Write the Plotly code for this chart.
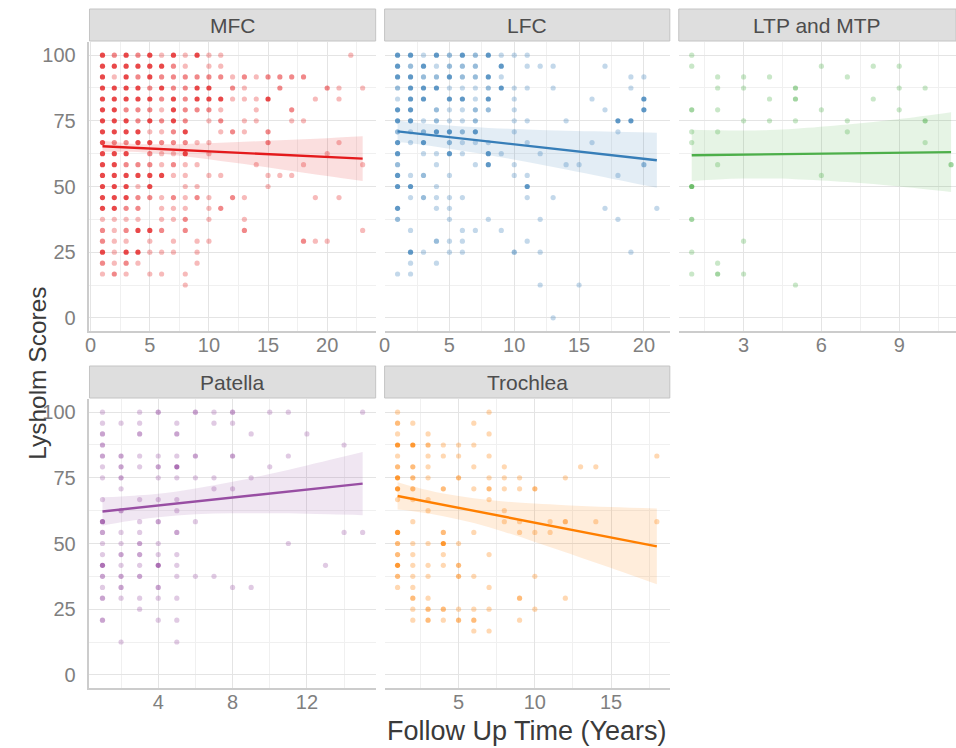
import plotly.graph_objects as go

# ---------------- data ----------------
# each panel: {score: [(follow-up year, number of overlapping observations), ...]}
mfc_rows = {
    100:  [(1,3),(2,2),(3,3),(4,2),(5,3),(6,1),(7,3),(8,1),(9,3),(10,1),(11,1),(22,1)],
    95.8: [(1,3),(2,3),(3,3),(4,3),(5,3),(6,3),(7,2),(8,1),(10,1),(11,1)],
    91.7: [(1,3),(2,1),(3,3),(4,2),(5,3),(6,2),(7,2),(8,2),(9,2),(10,2),(11,2),(12,1),(13,2),(14,1),(15,2),(16,2),(17,2),(18,2)],
    87.5: [(1,3),(2,3),(3,3),(4,3),(5,2),(6,3),(7,2),(8,2),(9,3),(10,3),(12,2),(13,1),(16,2),(20,2),(21,1),(23,1)],
    83.3: [(1,3),(2,3),(3,3),(4,3),(5,3),(6,2),(7,3),(8,2),(9,3),(10,3),(11,3),(12,1),(13,1),(14,1),(15,3),(19,1),(21,1)],
    79.2: [(1,3),(2,3),(3,2),(4,2),(5,2),(6,1),(7,3),(8,2),(9,2),(10,2),(11,1),(14,1),(17,2)],
    75:   [(1,3),(2,3),(3,3),(4,2),(5,3),(6,2),(7,3),(8,2),(10,1),(11,2),(13,1),(14,1),(17,1),(18,1)],
    70.8: [(1,3),(2,3),(3,3),(4,3),(5,1),(6,1),(7,2),(8,3),(11,1),(12,2),(13,1),(15,2)],
    66.7: [(1,3),(2,2),(3,2),(4,3),(5,3),(6,2),(7,2),(8,2),(9,1),(10,1),(15,2),(21,1)],
    62.5: [(1,3),(2,3),(3,3),(5,2),(6,1),(7,1),(8,3),(10,1),(20,1)],
    58.3: [(1,3),(2,3),(3,2),(4,2),(5,2),(6,1),(7,2),(8,1),(9,1),(14,1),(18,1),(23,1)],
    54.2: [(1,3),(2,3),(3,3),(4,3),(5,3),(6,3),(7,1),(8,1),(10,1),(11,1),(15,1),(16,1),(17,1)],
    50:   [(1,3),(2,3),(3,3),(4,1),(5,3),(8,1),(9,1),(15,1)],
    45.8: [(1,3),(2,3),(3,3),(4,2),(5,2),(6,1),(7,2),(8,1),(9,2),(10,1),(12,2),(13,1),(19,1),(21,1)],
    41.7: [(1,3),(2,3),(3,2),(4,2),(6,1),(7,1),(8,1),(10,1),(11,2)],
    37.5: [(1,1),(2,1),(3,1),(4,1),(6,1),(7,1),(8,2),(10,1),(13,1)],
    33.3: [(1,2),(2,1),(3,2),(4,3),(5,3),(6,2),(8,2),(13,2),(23,1)],
    29.2: [(1,2),(2,1),(3,1),(5,1),(7,1),(9,1),(10,1),(18,2),(19,1),(20,1)],
    25:   [(1,3),(2,1),(3,3),(4,3),(5,1),(6,1),(7,1),(9,1)],
    20.8: [(1,2),(2,1),(3,2),(4,1),(9,1)],
    16.7: [(1,1),(2,2),(3,1),(5,1),(6,1),(8,1)],
    12.5: [(8,1)],
}
lfc_rows = {
    100:  [(1,3),(2,3),(3,1),(4,3),(5,2),(6,3),(7,2),(8,3),(9,1),(10,1),(11,1)],
    95.8: [(1,3),(2,2),(3,3),(4,1),(5,2),(6,2),(7,2),(9,3),(11,1),(12,1),(13,1),(17,1)],
    91.7: [(1,3),(2,3),(3,2),(4,2),(5,3),(6,2),(7,2),(8,3),(9,1),(19,1),(20,1)],
    87.5: [(1,2),(2,3),(3,3),(4,3),(5,1),(6,1),(7,1),(8,2),(9,3),(10,1),(11,1),(13,1),(19,1)],
    83.3: [(1,1),(2,3),(3,3),(5,3),(6,3),(7,1),(8,3),(10,1),(16,1),(20,3)],
    79.2: [(1,3),(2,3),(4,2),(5,1),(6,1),(7,2),(8,2),(10,1),(17,1),(20,3)],
    75:   [(1,3),(2,3),(3,1),(4,2),(5,1),(6,1),(7,2),(10,1),(11,1),(14,1),(18,3),(19,3)],
    70.8: [(1,2),(2,1),(3,2),(4,3),(5,3),(6,2),(7,3),(10,1),(18,1)],
    66.7: [(1,3),(2,1),(3,3),(5,2),(6,1),(7,1),(8,1),(11,1),(16,1)],
    62.5: [(1,3),(3,1),(4,1),(5,3),(6,1),(8,3),(9,1),(12,1)],
    58.3: [(1,2),(4,1),(7,1),(8,3),(10,1),(14,1),(15,1),(20,2)],
    54.2: [(1,3),(2,1),(3,2),(5,1),(10,1),(11,1),(18,1)],
    50:   [(1,3),(2,3),(4,1),(11,3)],
    45.8: [(2,1),(3,2),(4,1),(5,1),(6,1),(11,1),(13,1)],
    41.7: [(1,3),(4,1),(5,1),(17,1),(21,1)],
    37.5: [(1,2),(5,1),(8,1),(12,1),(18,1)],
    33.3: [(2,1),(6,1),(7,1),(9,1)],
    29.2: [(4,2),(5,1),(6,1),(11,1)],
    25:   [(2,3),(3,1),(5,1),(6,1),(10,2),(12,1),(19,1)],
    20.8: [(2,1),(4,1)],
    16.7: [(1,1),(2,1)],
    12.5: [(12,1),(15,1)],
    0:    [(13,1)],
}
tp_rows = {
    100:  [(1,1)],
    95.8: [(1,1),(6,1),(8,1),(9,1)],
    91.7: [(2,1),(3,1),(4,1),(7,1)],
    87.5: [(2,1),(3,1),(5,2),(9,1),(10,1)],
    83.3: [(4,1),(5,2),(8,1)],
    79.2: [(1,2),(2,1),(6,1),(9,1)],
    75:   [(3,1),(4,1),(5,1),(7,1),(10,2)],
    70.8: [(1,1),(2,1),(7,1)],
    66.7: [(1,1),(10,1)],
    58.3: [(2,1),(11,2)],
    54.2: [(6,1)],
    50:   [(1,3)],
    37.5: [(1,2)],
    29.2: [(3,1)],
    25:   [(1,1)],
    20.8: [(2,1)],
    16.7: [(1,1),(2,2),(3,1)],
    12.5: [(5,1)],
}
patella_rows = {
    100:  [(1,1),(3,1),(4,2),(6,2),(7,1),(8,2),(10,1),(11,1),(15,1)],
    95.8: [(1,1),(2,1),(3,1),(5,1),(7,1),(8,1)],
    91.7: [(1,2),(3,2),(5,2),(9,1),(12,1)],
    87.5: [(1,2),(14,1)],
    83.3: [(1,2),(2,2),(3,1),(4,1),(5,1),(6,2),(8,2),(11,1)],
    79.2: [(1,1),(2,2),(3,1),(4,2),(5,3),(10,1)],
    75:   [(1,1),(2,2),(4,1),(5,1),(6,1),(7,1),(9,1)],
    70.8: [(2,1),(7,1),(8,1)],
    66.7: [(1,1),(3,1),(4,1),(5,1)],
    62.5: [(2,2),(5,1)],
    58.3: [(1,3),(3,1),(4,2),(6,1)],
    54.2: [(1,2),(2,1),(3,1),(5,2),(14,1),(15,1)],
    50:   [(1,1),(2,1),(3,2),(4,1),(11,1)],
    45.8: [(1,1),(2,2),(3,2),(4,1),(5,1)],
    41.7: [(1,3),(2,1),(3,1),(4,3),(5,1),(13,1)],
    37.5: [(1,2),(2,2),(3,2),(5,1),(6,1),(7,1)],
    33.3: [(1,1),(2,2),(4,2),(8,1),(9,1)],
    29.2: [(1,2),(2,1),(3,1),(4,1),(5,1)],
    25:   [(3,1)],
    20.8: [(1,2),(4,1),(5,1)],
    12.5: [(2,1),(5,1)],
}
trochlea_rows = {
    100:  [(1,1),(7,1)],
    95.8: [(1,2),(2,1),(6,1)],
    91.7: [(1,1),(3,1),(7,1)],
    87.5: [(1,3),(2,3),(3,2),(4,1),(5,1),(6,1)],
    83.3: [(1,1),(3,1),(4,1),(5,1),(7,1),(18,1)],
    79.2: [(1,2),(2,2),(3,1),(6,1),(8,1),(13,1),(14,1)],
    75:   [(1,3),(2,2),(3,1),(5,2),(7,1),(8,1),(9,1),(12,1)],
    70.8: [(1,3),(2,2),(4,2),(6,1),(7,2),(8,1),(9,1),(10,2)],
    66.7: [(1,1),(2,1),(3,1),(7,1)],
    62.5: [(3,1),(8,1)],
    58.3: [(2,1),(8,1),(9,1),(11,1),(12,2),(14,1),(18,1)],
    54.2: [(1,3),(4,2),(6,1),(9,1),(10,1),(11,1)],
    50:   [(1,2),(2,1),(3,1),(4,3),(5,1)],
    45.8: [(1,2),(2,1),(4,1),(7,1)],
    41.7: [(1,3),(2,1),(3,1),(4,1),(5,2)],
    37.5: [(1,2),(2,1),(3,1),(5,2),(6,1),(10,1)],
    33.3: [(1,1),(2,1),(7,1)],
    29.2: [(2,2),(3,1),(9,2),(12,1)],
    25:   [(2,1),(3,2),(4,2),(5,1),(6,1),(7,1),(10,1)],
    20.8: [(2,1),(3,2),(4,1),(5,2),(6,2),(9,1)],
    16.7: [(6,1),(7,1)],
}

# linear fit lines (start/end) and 95% bands
mfc_fit_x = [1, 23];  mfc_fit_y = [65.3, 60.6]
mfc_band_x  = [1, 3, 5, 8, 12, 16, 20, 23]
mfc_band_hi = [67.4, 66.5, 66.1, 66.2, 66.8, 67.6, 68.4, 69.1]
mfc_band_lo = [63.2, 63.2, 62.8, 61.4, 59.1, 56.6, 54.0, 52.1]

lfc_fit_x = [1, 21];  lfc_fit_y = [71.0, 60.0]
lfc_band_x  = [1, 3, 5, 8, 11, 14, 17, 21]
lfc_band_hi = [75.1, 74.0, 73.2, 72.3, 71.7, 71.2, 70.9, 70.5]
lfc_band_lo = [66.9, 65.8, 64.4, 62.0, 59.3, 56.5, 53.5, 49.5]

tp_fit_x = [1, 11];  tp_fit_y = [61.9, 63.1]
tp_band_x  = [1, 2, 3, 4, 5, 7, 9, 11]
tp_band_hi = [71.6, 71.4, 71.3, 71.5, 72.0, 73.6, 75.7, 78.3]
tp_band_lo = [52.1, 52.7, 53.0, 53.0, 52.8, 51.7, 50.0, 47.9]

patella_fit_x = [1, 15];  patella_fit_y = [62.2, 72.8]
patella_band_x  = [1, 2, 4, 6, 8, 10, 12, 15]
patella_band_hi = [67.6, 67.9, 68.9, 70.9, 73.5, 76.5, 79.7, 84.8]
patella_band_lo = [56.8, 58.1, 60.0, 61.1, 61.5, 61.5, 61.3, 60.8]

trochlea_fit_x = [1, 18];  trochlea_fit_y = [68.1, 48.9]
trochlea_band_x  = [1, 2, 4, 6, 8, 10, 12, 15, 18]
trochlea_band_hi = [73.3, 71.7, 69.0, 67.2, 66.0, 65.2, 64.6, 63.9, 63.3]
trochlea_band_lo = [62.9, 62.3, 60.4, 57.8, 54.4, 50.6, 46.7, 40.7, 34.5]

panel_names = ["MFC", "LFC", "LTP and MTP", "Patella", "Trochlea"]
y_ticks = [0, 25, 50, 75, 100]
x_ticks = [[0, 5, 10, 15, 20], [0, 5, 10, 15, 20], [3, 6, 9], [4, 8, 12], [5, 10, 15]]

# ---------------- styling / layout ----------------
W, H = 956, 748
colors = [(228, 26, 28), (55, 126, 184), (77, 175, 74), (152, 78, 163), (255, 127, 0)]
alpha_for_n = {1: 0.30, 2: 0.52, 3: 0.80}

rows = [mfc_rows, lfc_rows, tp_rows, patella_rows, trochlea_rows]
fits = [(mfc_fit_x, mfc_fit_y), (lfc_fit_x, lfc_fit_y), (tp_fit_x, tp_fit_y),
        (patella_fit_x, patella_fit_y), (trochlea_fit_x, trochlea_fit_y)]
bands = [(mfc_band_x, mfc_band_hi, mfc_band_lo), (lfc_band_x, lfc_band_hi, lfc_band_lo),
         (tp_band_x, tp_band_hi, tp_band_lo), (patella_band_x, patella_band_hi, patella_band_lo),
         (trochlea_band_x, trochlea_band_hi, trochlea_band_lo)]

x_ranges = [[-0.1, 24.1], [0, 22], [0.5, 11.19], [0.3, 15.7], [0.15, 18.85]]
x_minor = [2.5, 2.5, 1.5, 2, 2.5]

px_x = [(84, 372), (381, 668), (677, 956), (84, 372), (381, 668)]
px_y = [(42, 331), (42, 331), (42, 331), (399, 688), (399, 688)]
strip_y = [(9, 41), (9, 41), (9, 41), (366, 398), (366, 398)]

def fx(p):
    return p / W

def fy(p):
    return 1 - p / H

FONT = "Liberation Sans, Arial, sans-serif"
fig = go.Figure()
shapes = []
annotations = []
tick_font = dict(family=FONT, size=20, color="#7F7F7F")
grid_major = "#E4E4E4"
grid_minor = "#F0F0F0"

for i in range(5):
    k = i + 1
    xa = "x" if k == 1 else f"x{k}"
    ya = "y" if k == 1 else f"y{k}"
    r, g, b = colors[i]
    xs, ys, ops = [], [], []
    for score, pts in rows[i].items():
        for yr, n in pts:
            xs.append(yr)
            ys.append(score)
            ops.append(alpha_for_n[n])
    fig.add_trace(go.Scatter(
        x=xs, y=ys, mode="markers", xaxis=xa, yaxis=ya, showlegend=False,
        marker=dict(size=5.2, color=f"rgb({r},{g},{b})", opacity=ops, line=dict(width=0)),
        hoverinfo="skip"))
    bx, bhi, blo = bands[i]
    fig.add_trace(go.Scatter(
        x=bx, y=blo, mode="lines", line=dict(width=0, shape="spline", color="rgba(0,0,0,0)"),
        xaxis=xa, yaxis=ya, showlegend=False, hoverinfo="skip"))
    fig.add_trace(go.Scatter(
        x=bx, y=bhi, mode="lines", fill="tonexty",
        fillcolor=f"rgba({r},{g},{b},0.14)",
        line=dict(width=0, shape="spline", color="rgba(0,0,0,0)"),
        xaxis=xa, yaxis=ya, showlegend=False, hoverinfo="skip"))
    lx, ly = fits[i]
    fig.add_trace(go.Scatter(
        x=lx, y=ly, mode="lines", line=dict(color=f"rgb({r},{g},{b})", width=2.4),
        xaxis=xa, yaxis=ya, showlegend=False, hoverinfo="skip"))

    left = i in (0, 3)
    xdom = [fx(px_x[i][0]), fx(px_x[i][1])]
    ydom = [fy(px_y[i][1]), fy(px_y[i][0])]
    fig.layout[("xaxis" if k == 1 else f"xaxis{k}")] = dict(
        domain=xdom, anchor=ya, range=x_ranges[i], tickvals=x_ticks[i],
        showgrid=True, gridcolor=grid_major, gridwidth=1.2, zeroline=False,
        showline=True, linecolor="#CCCCCC", linewidth=1.5, ticks="",
        tickfont=tick_font, ticklabelstandoff=-5,
        minor=dict(dtick=x_minor[i], tick0=0, showgrid=True, gridcolor=grid_minor, gridwidth=1),
        fixedrange=True)
    fig.layout[("yaxis" if k == 1 else f"yaxis{k}")] = dict(
        domain=ydom, anchor=xa, range=[-5, 105], tickvals=y_ticks,
        showticklabels=left, showgrid=True, gridcolor=grid_major, gridwidth=1.2,
        zeroline=False, showline=left, linecolor="#CCCCCC", linewidth=1.5, ticks="",
        tickfont=tick_font, ticklabelstandoff=8,
        minor=dict(dtick=12.5, tick0=0, showgrid=True, gridcolor=grid_minor, gridwidth=1),
        fixedrange=True)

    # facet strip
    sx0, sx1 = px_x[i]
    sy0, sy1 = strip_y[i]
    shapes.append(dict(type="rect", xref="paper", yref="paper",
                       x0=fx(sx0), x1=fx(sx1), y0=fy(sy1), y1=fy(sy0),
                       fillcolor="#DEDEDE", line=dict(color="#C4C4C4", width=1), layer="below"))
    annotations.append(dict(text=panel_names[i], xref="paper", yref="paper",
                            x=fx((sx0 + sx1) / 2), y=fy((sy0 + sy1) / 2),
                            xanchor="center", yanchor="middle", showarrow=False,
                            font=dict(family=FONT, size=21, color="#4D4D4D")))

annotations.append(dict(text="Follow Up Time (Years)", xref="paper", yref="paper",
                        x=fx(524), y=fy(731), xanchor="center", yanchor="middle", showarrow=False,
                        font=dict(family=FONT, size=27, color="#3A3A3A")))
annotations.append(dict(text="Lysholm Scores", xref="paper", yref="paper",
                        x=fx(31), y=fy(373), xanchor="center", yanchor="middle", showarrow=False,
                        textangle=-90,
                        font=dict(family=FONT, size=24.5, color="#3A3A3A")))

fig.update_layout(width=W, height=H, autosize=False,
                  margin=dict(l=0, r=0, t=0, b=0, pad=0),
                  paper_bgcolor="white", plot_bgcolor="white",
                  shapes=shapes, annotations=annotations, showlegend=False)

fig.write_html("out.html")
